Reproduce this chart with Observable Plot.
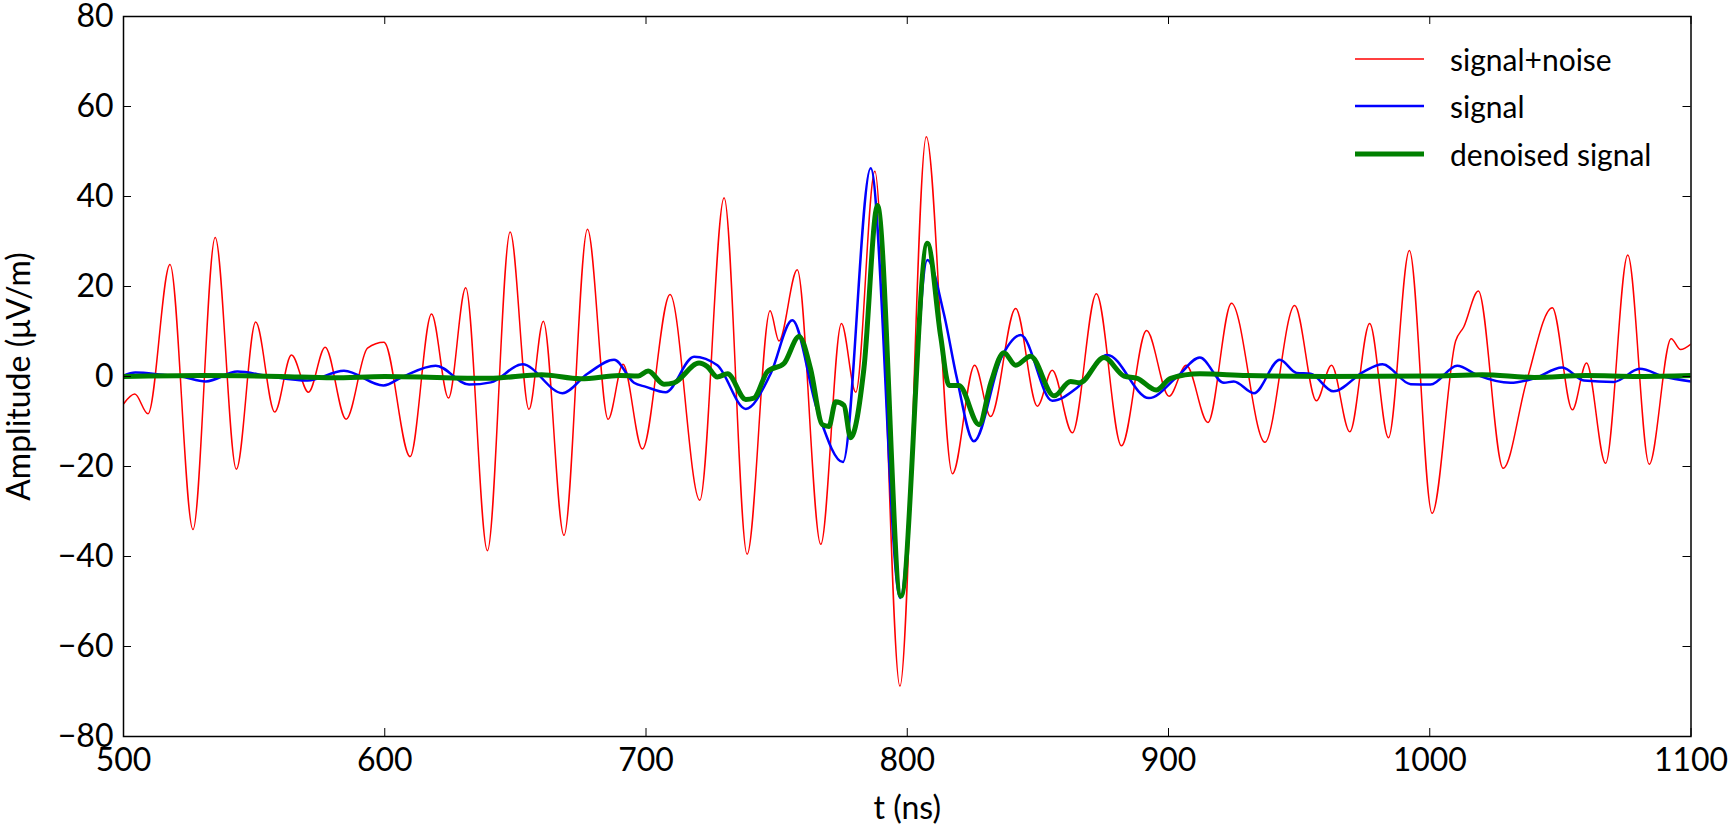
<!DOCTYPE html>
<html><head><meta charset="utf-8">
<script src="https://cdn.jsdelivr.net/npm/d3@7"></script>
<script src="https://cdn.jsdelivr.net/npm/@observablehq/plot@0.6"></script>
<style>
body{margin:0;background:#fff;}
#wrap{position:relative;width:1728px;height:828px;font-family:Lato, sans-serif;}
#legend{position:absolute;left:1355px;top:35px;}
.row{display:flex;align-items:center;height:47.5px;}
.sw{width:69px;height:10px;margin-right:26px;display:block;}
.lab{font-size:30px;color:#000;line-height:1;}
</style></head><body><div id="wrap"><div id="legend"></div></div>
<script>
const seriesNames = ["signal+noise", "signal", "denoised signal"];
const seriesColors = ["#ff0000", "#0000ff", "#008000"];
const seriesWidths = [1.5, 2.5, 5];

const noisyT = [500, 504.3, 509.4, 517.8, 526.6, 535.1, 543.2, 550.6, 557.9, 564.3, 570.8, 577.2, 585.2, 593.4, 599.7,
  609.7, 617.9, 624.4, 631, 639.3, 648, 655.2, 660.7, 668.6, 677.6, 685.5, 691.2, 698.6, 709.2, 720.6, 729.9, 738.7,
  747.5, 750.9, 757.9, 766.9, 774.8, 780.3, 787.6, 797.2, 807.3, 817.3, 825.8, 831.9, 841.5, 849.8, 855.5, 863.2,
  872.4, 882, 891.6, 900.2, 906.8, 915.1, 924.1, 936.9, 948.3, 956.6, 962.4, 969.4, 977, 984.2, 992.2, 1000.9,
  1009.9, 1013, 1018.6, 1028.1, 1037, 1046.9, 1054.6, 1060, 1067.3, 1075.8, 1084, 1092.4, 1096, 1100];
const noisyV = [-6.1, -3.9, -8.3, 24.9, -34, 30.9, -20.6, 12.1, -7.9, 4.8, -3.5, 6.5, -9.5, 6.3, 7.6,
  -17.8, 13.9, -4.8, 19.7, -38.7, 32.1, -7.3, 12.3, -35.3, 32.7, -9.5, 2.7, -16.1, 18.2, -27.5, 39.7, -39.5,
  14.6, 7.9, 23.7, -37.3, 11.8, -3.5, 45.6, -68.8, 53.3, -21.6, 2.5, -8.9, 15.1, -6.6, 1.4, -12.5,
  18.4, -15.4, 10.2, -4.4, 2.5, -10.2, 16.3, -14.6, 15.8, -5.4, 2.5, -12.3, 11.8, -13.6, 28, -30.4,
  7.9, 11, 19, -20.4, -1.2, 15.3, -7.4, 3, -19.3, 27, -19.5, 8.4, 6, 7.2];

const signalT = [500, 504.5, 515, 522, 531.5, 543.6, 556, 570.4, 584.4, 599.5, 607, 619.5, 632.3, 640.6, 652.7, 668,
  677.6, 687.8, 695.4, 700, 707.5, 718.4, 727.3, 738.2, 747.7, 756, 765.6, 775.4, 786, 797.3, 807.7, 814, 819,
  825.5, 836, 843.4, 855.5, 865, 876.6, 892.5, 903.4, 912, 921.2, 925, 932.7, 942.6, 949, 954.4, 963.1, 974.8,
  981.9, 992.7, 1000.3, 1010.5, 1018.2, 1030.9, 1040, 1050.7, 1059, 1070.5, 1080.4, 1089.6, 1100];
const signalV = [0.2, 0.9, 0.4, 0, -1.1, 1.1, 0, -0.9, 1.3, -2, 0, 2.4, -1.8, -1.3, 2.7, -3.7,
  0.6, 3.7, -1.4, -2.3, -3.5, 4.4, 2.5, -7.2, 0.6, 12.5, -7.6, -19, 46.3, -49.2, 25.9, 14, -0.4,
  -14.4, 4.2, 9.2, -5.4, -2.5, 4.8, -4.8, 0, 4.2, -1.4, -1.1, -3.7, 3.7, 0.8, 0.6, -3.3, 1.1,
  2.7, -1.7, -1.8, 2.4, 0.3, -1.4, -0.4, 2, -0.9, -1.2, 1.7, 0, -1.1];

const denoisedT = [500, 530, 560, 580, 600, 640, 660, 675, 690, 697, 700.8, 706.9, 710.7, 720.3, 723.5, 727.3, 731.2,
  738.2, 741.3, 746.5, 752.8, 758.6, 763, 767.5, 770, 772.6, 775.8, 778.3, 783.4, 788.6, 797.6, 807.7, 812.8,
  816, 819.8, 827.5, 832, 837, 841.5, 847.2, 856.2, 862.5, 866, 875.3, 883, 888, 895.3, 900.8, 912, 930, 960,
  1000, 1020, 1040, 1060, 1080, 1100];
const denoisedV = [0, 0.2, 0, -0.3, 0, -0.4, 0.4, -0.5, 0.2, 0.1, 1.2, -1.7, -1.4, 3, 2.2, -0.1, 0.6,
  -5.1, -4.8, 1.1, 2.9, 8.9, 1.7, -10.7, -11.1, -5.6, -6.4, -13.6, 1.7, 38, -48.8, 29.6, 8.9,
  -2, -2, -10.7, -1.4, 5.3, 2.5, 4.5, -4.3, -1.1, -1.4, 4.2, 0.1, -0.4, -3, -0.4, 0.6, 0.2, 0,
  0.1, 0.4, -0.2, 0.2, 0, 0.2];

const xTicks = [500, 600, 700, 800, 900, 1000, 1100];
const yTicks = [-80, -60, -40, -20, 0, 20, 40, 60, 80];

const W = 1728, H = 828, mL = 123, mR = 37.5, mT = 16, mB = 92;
const innerW = W - mL - mR, innerH = H - mT - mB;
const toRows = (ts, vs) => ts.map((t, i) => ({t, v: vs[i]}));
const seriesData = [toRows(noisyT, noisyV), toRows(signalT, signalV), toRows(denoisedT, denoisedV)];
const fmt = d => (d < 0 ? "\u2212" : "") + Math.abs(d);

const chart = Plot.plot({
  width: W, height: H,
  marginLeft: mL, marginRight: mR, marginTop: mT, marginBottom: mB,
  style: {fontFamily: "Lato, sans-serif", fontSize: "32px", color: "#000", background: "#fff"},
  x: {domain: [500, 1100], label: null},
  y: {domain: [-80, 80], label: null},
  marks: [
    Plot.axisX(xTicks, {tickSize: 0, tickPadding: 12, fontSize: 32, label: null, tickFormat: fmt}),
    Plot.axisY(yTicks, {tickSize: 0, tickPadding: 10, fontSize: 32, label: null, tickFormat: fmt}),
    ...seriesData.map((d, i) => Plot.line(d, {x: "t", y: "v", stroke: seriesColors[i], strokeWidth: seriesWidths[i], curve: "monotone-x", clip: true})),
    Plot.ruleX(xTicks, {insetTop: innerH - 8, stroke: "#000", strokeWidth: 1}),
    Plot.ruleX(xTicks, {insetBottom: innerH - 8, stroke: "#000", strokeWidth: 1}),
    Plot.ruleY(yTicks, {insetLeft: innerW - 8, stroke: "#000", strokeWidth: 1}),
    Plot.ruleY(yTicks, {insetRight: innerW - 8, stroke: "#000", strokeWidth: 1}),
    Plot.frame({stroke: "#000", strokeWidth: 1.5}),
    Plot.text(["t (ns)"], {text: d => d, frameAnchor: "bottom", dy: 72, lineAnchor: "middle", fontSize: 32}),
    Plot.text(["Amplitude (μV/m)"], {text: d => d, frameAnchor: "left", rotate: -90, dx: -104, textAnchor: "middle", lineAnchor: "middle", fontSize: 32})
  ]
});
document.getElementById("wrap").prepend(chart);

const legend = document.getElementById("legend");
seriesNames.forEach((name, i) => {
  const row = document.createElement("div");
  row.className = "row";
  row.innerHTML = `<svg class="sw" viewBox="0 0 69 10"><line x1="0" x2="69" y1="5" y2="5" stroke="${seriesColors[i]}" stroke-width="${seriesWidths[i]}"/></svg><span class="lab">${name}</span>`;
  legend.appendChild(row);
});
</script>
</body></html>
